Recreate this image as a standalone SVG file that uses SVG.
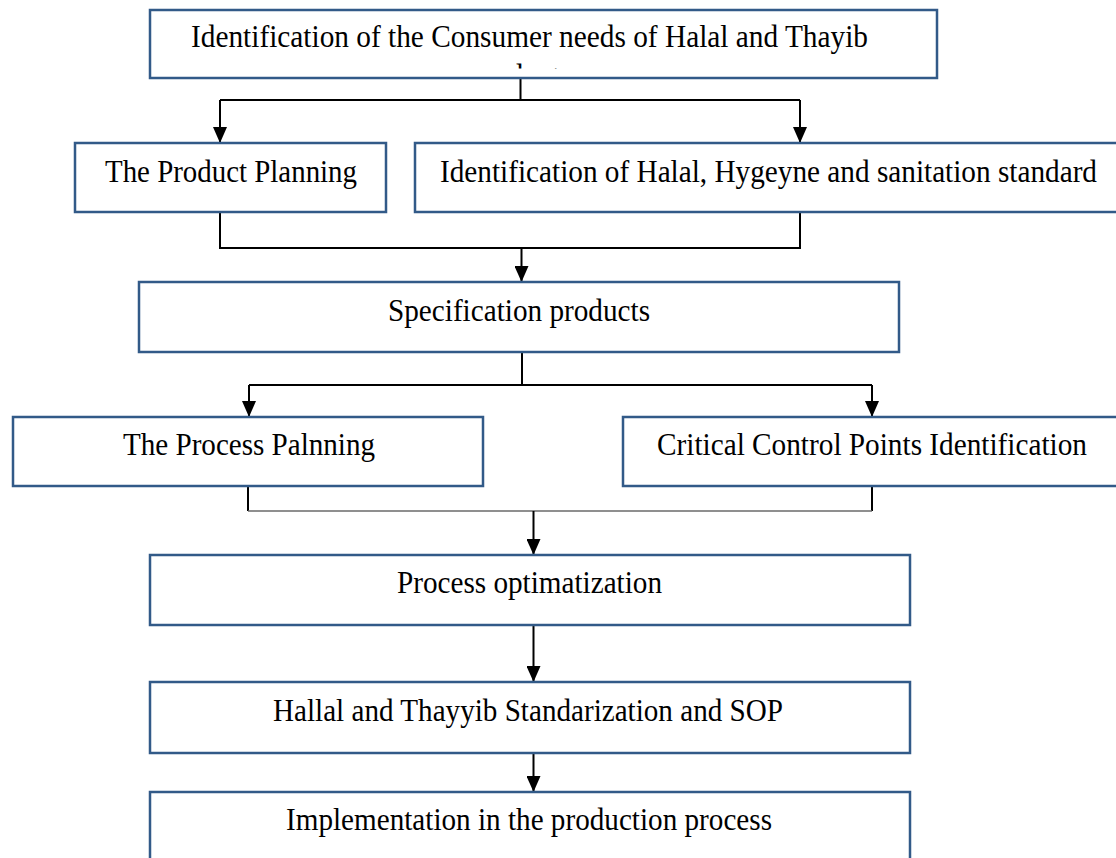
<svg xmlns="http://www.w3.org/2000/svg" width="1116" height="858" viewBox="0 0 1116 858">
  <style>
    .box { fill: #ffffff; stroke: #325a88; stroke-width: 2.5; }
    .lbl { font-family: "Liberation Serif", "Times New Roman", serif; font-size: 31px; fill: #000000; }
    .wire { fill: none; stroke: #000000; stroke-width: 2; }
    .wire-thin { fill: none; stroke: #6a6a6a; stroke-width: 1.5; }
  </style>
  <defs>
    <marker id="arrow" viewBox="0 0 16 14" refX="16" refY="7" markerWidth="16" markerHeight="14" markerUnits="userSpaceOnUse" orient="auto">
      <path d="M0,0 L16,7 L0,14 Z" fill="#000000"/>
    </marker>
    <clipPath id="clipTop">
      <rect x="150" y="10" width="787" height="58.5"/>
    </clipPath>
  </defs>
  <rect width="1116" height="858" fill="#ffffff"/>

  <!-- connectors -->
  <g id="connectors">
    <path class="wire" d="M520.5,78 V100 M220,100 H800"/>
    <path class="wire" d="M220,100 V143" marker-end="url(#arrow)"/>
    <path class="wire" d="M800,100 V143" marker-end="url(#arrow)"/>

    <path class="wire" d="M220,212 V248 H800 V212"/>
    <path class="wire" d="M521.5,248 V282" marker-end="url(#arrow)"/>

    <path class="wire" d="M522,352 V385 M249,385 H872"/>
    <path class="wire" d="M249,385 V417" marker-end="url(#arrow)"/>
    <path class="wire" d="M872,385 V417" marker-end="url(#arrow)"/>

    <path class="wire" d="M248,486 V511 M872,486 V511"/>
    <path class="wire-thin" d="M248,511 H872"/>
    <path class="wire" d="M533.5,511 V555" marker-end="url(#arrow)"/>

    <path class="wire" d="M533.5,625 V682" marker-end="url(#arrow)"/>
    <path class="wire" d="M533.5,753 V792" marker-end="url(#arrow)"/>
  </g>

  <g id="consumer-needs">
    <rect class="box" x="150" y="10" width="787" height="68"/>
    <g clip-path="url(#clipTop)">
      <text class="lbl" x="191" y="47" textLength="677" lengthAdjust="spacingAndGlyphs">Identification of the Consumer needs of Halal and Thayib</text>
      <text class="lbl" x="468" y="86" textLength="104" lengthAdjust="spacingAndGlyphs">products</text>
    </g>
  </g>

  <g id="product-planning">
    <rect class="box" x="75" y="143" width="311" height="69"/>
    <text class="lbl" x="105" y="182" textLength="252" lengthAdjust="spacingAndGlyphs">The Product Planning</text>
  </g>

  <g id="halal-standard">
    <rect class="box" x="415" y="143" width="710" height="69"/>
    <text class="lbl" x="440" y="182" textLength="657" lengthAdjust="spacingAndGlyphs">Identification of Halal, Hygeyne and sanitation standard</text>
  </g>

  <g id="specification">
    <rect class="box" x="139" y="282" width="760" height="70"/>
    <text class="lbl" x="388" y="321" textLength="262" lengthAdjust="spacingAndGlyphs">Specification products</text>
  </g>

  <g id="process-planning">
    <rect class="box" x="13" y="417" width="470" height="69"/>
    <text class="lbl" x="123" y="455" textLength="252" lengthAdjust="spacingAndGlyphs">The Process Palnning</text>
  </g>

  <g id="critical-points">
    <rect class="box" x="623" y="417" width="500" height="69"/>
    <text class="lbl" x="657" y="455" textLength="430" lengthAdjust="spacingAndGlyphs">Critical Control Points Identification</text>
  </g>

  <g id="optimization">
    <rect class="box" x="150" y="555" width="760" height="70"/>
    <text class="lbl" x="397" y="593" textLength="265" lengthAdjust="spacingAndGlyphs">Process optimatization</text>
  </g>

  <g id="standardization">
    <rect class="box" x="150" y="682" width="760" height="71"/>
    <text class="lbl" x="273" y="721" textLength="510" lengthAdjust="spacingAndGlyphs">Hallal and Thayyib Standarization and SOP</text>
  </g>

  <g id="implementation">
    <rect class="box" x="150" y="792" width="760" height="80"/>
    <text class="lbl" x="286" y="830" textLength="486" lengthAdjust="spacingAndGlyphs">Implementation in the production process</text>
  </g>
</svg>
